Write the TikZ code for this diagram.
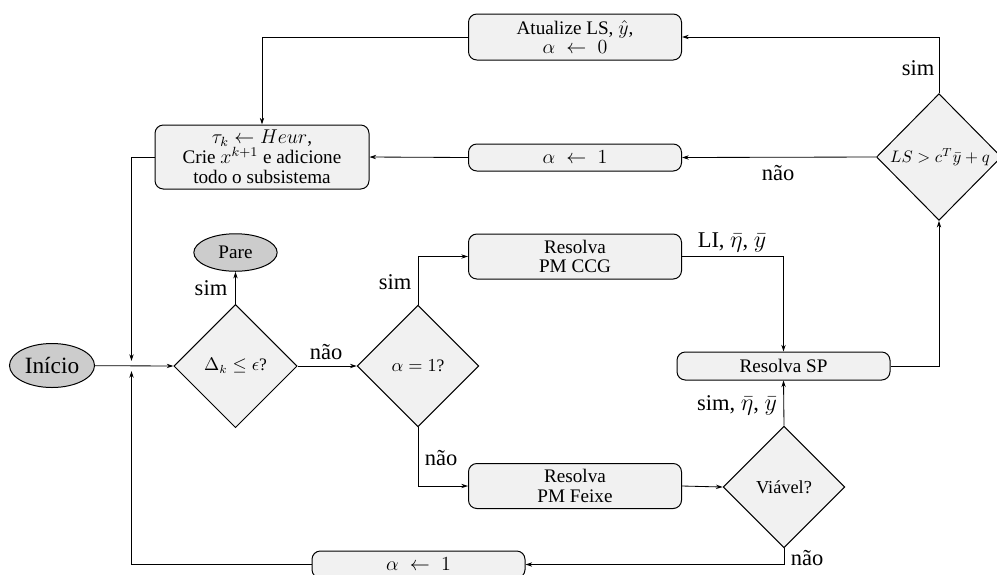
\documentclass[tikz,border=0pt]{standalone}
\usepackage{fontspec}
\setmainfont{Liberation Serif}
\usetikzlibrary{shapes.geometric,arrows.meta}
\definecolor{boxfill}{RGB}{241,241,241}
\definecolor{ellfill}{RGB}{204,204,204}
\begin{document}
\begin{tikzpicture}[x=0.6pt,y=-0.6pt,
 box/.style={draw, rounded corners=5pt, fill=boxfill, line width=0.6pt, minimum width=127.8pt, align=center, font=\fontsize{11.5}{11.5}\selectfont, inner sep=0pt},
 dia/.style={draw, diamond, aspect=1, fill=boxfill, line width=0.6pt, inner sep=0pt, minimum width=74pt, minimum height=74pt},
 ell/.style={draw, ellipse, fill=ellfill, line width=0.6pt, inner sep=0pt},
 lbl/.style={font=\fontsize{13.5}{15}\selectfont, inner sep=0pt},
 dtext/.style={font=\fontsize{10.5}{12}\selectfont, inner sep=0pt},
 arr/.style={-{Stealth[length=4pt,width=2.6pt]}, line width=0.5pt}]
\clip (0,0) rectangle (997,574);
% nodes
\node[box, minimum height=27.6pt] (atu) at (575,37) {Atualize LS, $\hat{y}$,\\ $\alpha \;\leftarrow\; 0$};
\node[box, minimum width=128.4pt, minimum height=38.4pt, font=\fontsize{11.5}{12}\selectfont] (heur) at (262,157) {$\tau_k \leftarrow Heur$,\\ Crie $x^{k+1}$ e adicione\\ todo o subsistema};
\node[box, minimum height=16.2pt] (a1) at (575,157.5) {$\alpha \;\leftarrow\; 1$};
\node[dia, minimum width=75pt, minimum height=76pt] (ls) at (939,157) {};
\node[font=\fontsize{10}{12}\selectfont, inner sep=0pt] (lst) at (940,157) {$LS > c^T\bar{y} + q$};
\node[ell, minimum width=50pt, minimum height=22.5pt, font=\fontsize{11.5}{13}\selectfont] (pare) at (235.5,252.5) {Pare};
\node[ell, minimum width=51pt, minimum height=26.4pt, font=\fontsize{14}{15}\selectfont] (ini) at (52,365.5) {Início};
\node[dia] (delta) at (235.5,366) {};
\node[dtext] (deltat) at (delta) {$\Delta_k \le \epsilon$?};
\node[dia, minimum width=73pt, minimum height=73pt] (alpha) at (418,366) {};
\node[dtext] (alphat) at (alpha) {$\alpha = 1$?};
\node[box, minimum height=27pt] (ccg) at (575,256.5) {Resolva\\ PM CCG};
\node[box, minimum height=16.8pt] (sp) at (783.5,366) {Resolva SP};
\node[box, minimum height=27pt] (feixe) at (575,486) {Resolva\\ PM Feixe};
\node[dia, minimum width=73pt, minimum height=73pt] (viavel) at (784,487) {};
\node[dtext, font=\fontsize{11}{12}\selectfont] (viavelt) at (viavel) {Viável?};
\node[box, minimum height=16.2pt] (a2) at (418.5,564.5) {$\alpha \;\leftarrow\; 1$};
\coordinate (jt) at (131.5,361);
\coordinate (jb) at (131.5,371);
% connectors
\draw[arr] (ini) -- (delta.west);
\draw[arr] (heur.west) -| (jt);
\draw[arr] (a2.west) -| (jb);
\draw[arr] (delta.north) -- (pare.south);
\draw[arr] (delta.east) -- (alpha.west);
\draw[arr] (alpha.north) |- (ccg.west);
\draw[arr] (alpha.south) |- (feixe.west);
\draw[arr] (ccg.east) -| (sp.north);
\draw[arr] (feixe.east) -- (viavel.west);
\draw[arr] (viavel.north) -- (sp.south);
\draw[arr] (viavel.south) |- (a2.east);
\draw[arr] (sp.east) -| (ls.south);
\draw[arr] (ls.north) |- (atu.east);
\draw[arr] (ls.west) -- (a1.east);
\draw[arr] (a1.west) -- (heur.east);
\draw[arr] (atu.west) -| (heur.north);
% labels
\node[lbl] (l1) at (211,288) {sim};
\node[lbl] (l2) at (326,352) {não};
\node[lbl] (l3) at (395,282) {sim};
\node[lbl] (l4) at (441,458) {não};
\node[lbl] (l5) at (732,242) {LI, $\bar{\eta}$, $\bar{y}$};
\node[lbl] (l6) at (737,405) {sim, $\bar{\eta}$, $\bar{y}$};
\node[lbl] (l7) at (807,558) {não};
\node[lbl] (l8) at (918,68) {sim};
\node[lbl] (l9) at (778,173) {não};
\end{tikzpicture}
\end{document}
